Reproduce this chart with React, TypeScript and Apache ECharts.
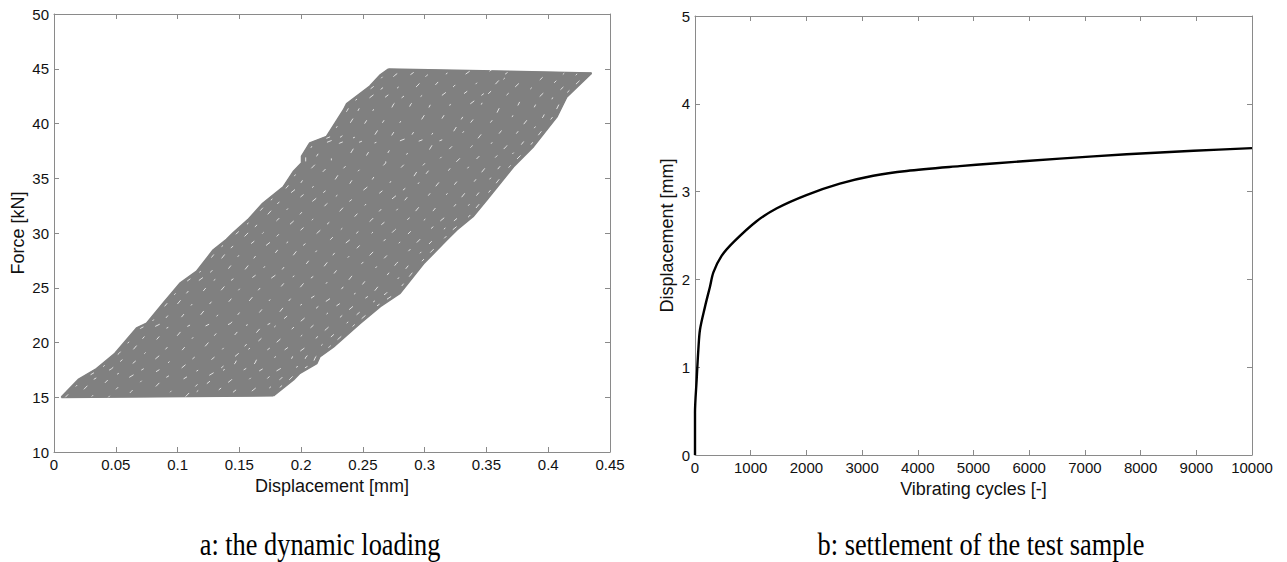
import React, { useEffect, useRef } from "react";
import * as echarts from "echarts";

// ---------- Panel a: hysteresis loops (force vs displacement) ----------
// outer loading branch of the first loops (left envelope), bottom -> top
const leftEdgeX = [0.006, 0.0103, 0.0197, 0.0345, 0.0494, 0.0669, 0.075, 0.0885, 0.102, 0.1155, 0.129, 0.1397, 0.145, 0.157, 0.169, 0.1856, 0.1937, 0.2005, 0.2005, 0.207, 0.2207, 0.2342, 0.237, 0.2557, 0.2638, 0.2706];
const leftEdgeF = [15.0, 15.5, 16.6, 17.6, 19.0, 21.3, 21.75, 23.6, 25.4, 26.5, 28.45, 29.4, 30.0, 31.2, 32.7, 34.2, 35.6, 36.4, 37.0, 38.2, 38.8, 41.2, 41.8, 43.4, 44.4, 44.95];
// outer unloading branch of the last loops (right envelope), top -> bottom
const rightEdgeX = [0.435, 0.415, 0.4068, 0.388, 0.3717, 0.35, 0.339, 0.326, 0.318, 0.299, 0.28, 0.264, 0.2477, 0.226, 0.215, 0.2126, 0.199, 0.1937, 0.1775];
const rightEdgeF = [44.6, 42.45, 40.6, 37.9, 36.05, 33.0, 31.5, 30.3, 29.4, 27.2, 24.5, 23.3, 21.75, 19.6, 18.7, 18.1, 17.2, 16.6, 15.15];
// peak plateau and valley plateau
const topX = [0.2706, 0.435];
const topF = [44.95, 44.6];
const bottomX = [0.006, 0.1775];
const bottomF = [15.0, 15.15];
// displacement offsets of inner loops whose small gaps show through the mass
const leftGapOffsets = [0.0032, 0.012, 0.024, 0.038, 0.052, 0.068, 0.084, 0.1];
const rightGapOffsets = [-0.0032, -0.011, -0.022, -0.036, -0.05, -0.066];

const xTicksA = ["0", "0.05", "0.1", "0.15", "0.2", "0.25", "0.3", "0.35", "0.4", "0.45"];
const yTicksA = ["10", "15", "20", "25", "30", "35", "40", "45", "50"];

// ---------- Panel b: settlement vs vibrating cycles ----------
const cycles = [0, 0, 30, 60, 90, 180, 270, 330, 480, 700, 1100, 1470, 2000, 2600, 3200, 3800, 4750, 5350, 6550, 7750, 8950, 10000];
const settlement = [0, 0.48, 0.86, 1.2, 1.43, 1.69, 1.92, 2.08, 2.27, 2.43, 2.66, 2.81, 2.96, 3.09, 3.18, 3.235, 3.29, 3.32, 3.375, 3.425, 3.465, 3.495];

const xTicksB = ["0", "1000", "2000", "3000", "4000", "5000", "6000", "7000", "8000", "9000", "10000"];
const yTicksB = ["0", "1", "2", "3", "4", "5"];

const captionA = "a: the dynamic loading";
const captionB = "b: settlement of the test sample";

const SANS = "'Liberation Sans', Arial, sans-serif";
const SERIF = "'Liberation Serif', 'Times New Roman', serif";
const AXIS_GRAY = "#8a8a8a";
const LOOP_GRAY = "#808080";

function pairs(xs: number[], ys: number[], dx = 0): number[][] {
  return xs.map((x, i) => [x + dx, ys[i]]);
}

function labelFmt(labels: string[], min: number, step: number) {
  return (v: number) => {
    const i = Math.round((v - min) / step);
    return labels[i] ?? "";
  };
}

export default function App() {
  const ref = useRef<HTMLDivElement>(null);

  useEffect(() => {
    if (!ref.current) return;
    const chart = echarts.init(ref.current, null, { renderer: "svg" });

    const envelope = [
      ...pairs(leftEdgeX, leftEdgeF),
      [topX[1], topF[1]],
      ...pairs(rightEdgeX, rightEdgeF),
      [bottomX[0], bottomF[0]],
    ];

    const axisCommon = {
      type: "value",
      axisLine: { show: true, onZero: false, lineStyle: { color: AXIS_GRAY, width: 1 } },
      axisTick: { show: true, inside: true, length: 5, lineStyle: { color: AXIS_GRAY } },
      splitLine: { show: false },
    };
    const labelStyle = { fontSize: 15, color: "#111", fontFamily: SANS };
    const nameStyle = { fontSize: 18, color: "#111", fontFamily: SANS };

    const baseX = (gridIndex: number, min: number, max: number, step: number, labels: string[], name: string) => [
      {
        ...axisCommon,
        gridIndex, min, max, interval: step,
        position: "bottom",
        axisLabel: { ...labelStyle, margin: 5, formatter: labelFmt(labels, min, step) },
        name,
        nameLocation: "middle",
        nameGap: 23,
        nameTextStyle: nameStyle,
      },
      {
        ...axisCommon,
        gridIndex, min, max, interval: step,
        position: "top",
        axisLabel: { show: false },
      },
    ];
    const baseY = (gridIndex: number, min: number, max: number, step: number, labels: string[], name: string, gap: number) => [
      {
        ...axisCommon,
        gridIndex, min, max, interval: step,
        position: "left",
        axisLabel: { ...labelStyle, margin: 5, formatter: labelFmt(labels, min, step) },
        name,
        nameLocation: "middle",
        nameGap: gap,
        nameTextStyle: nameStyle,
      },
      {
        ...axisCommon,
        gridIndex, min, max, interval: step,
        position: "right",
        axisLabel: { show: false },
      },
    ];

    const loopLine = (data: number[][]) => ({
      type: "line",
      xAxisIndex: 0,
      yAxisIndex: 0,
      data,
      showSymbol: false,
      silent: true,
      lineStyle: { color: LOOP_GRAY, width: 2 },
      z: 3,
    });

    const gapLine = (data: number[][], k: number) => ({
      type: "line",
      xAxisIndex: 0,
      yAxisIndex: 0,
      data,
      showSymbol: false,
      silent: true,
      lineStyle: {
        color: "#ffffff",
        width: 0.9,
        opacity: 0.85,
        type: k % 2 === 0 ? [4, 11, 2, 17] : [3, 15, 5, 9],
        dashOffset: k * 7,
      },
      z: 4,
    });

    const option: any = {
      animation: false,
      backgroundColor: "#ffffff",
      grid: [
        { left: 54, top: 14, width: 556, height: 438, containLabel: false },
        { left: 695, top: 16, width: 557, height: 439, containLabel: false },
      ],
      xAxis: [
        ...baseX(0, 0, 0.45, 0.05, xTicksA, "Displacement [mm]"),
        ...baseX(1, 0, 10000, 1000, xTicksB, "Vibrating cycles [-]"),
      ],
      yAxis: [
        ...baseY(0, 10, 50, 5, yTicksA, "Force [kN]", 27),
        ...baseY(1, 0, 5, 1, yTicksB, "Displacement [mm]", 19),
      ],
      series: [
        {
          type: "custom",
          xAxisIndex: 0,
          yAxisIndex: 0,
          silent: true,
          data: [[0.2, 30]],
          renderItem: (_p: any, api: any) => ({
            type: "polygon",
            shape: { points: envelope.map((p) => api.coord(p)) },
            style: { fill: LOOP_GRAY, stroke: LOOP_GRAY, lineWidth: 1 },
          }),
          z: 2,
        },
        loopLine(pairs(leftEdgeX, leftEdgeF)),
        loopLine(pairs(rightEdgeX, rightEdgeF)),
        loopLine(pairs(topX, topF)),
        loopLine(pairs(bottomX, bottomF)),
        ...leftGapOffsets.map((d, k) => gapLine(pairs(leftEdgeX, leftEdgeF, d), k)),
        ...rightGapOffsets.map((d, k) => gapLine(pairs(rightEdgeX, rightEdgeF, d), k + 1)),
        {
          type: "line",
          xAxisIndex: 2,
          yAxisIndex: 2,
          data: pairs(cycles, settlement),
          showSymbol: false,
          smooth: 0.3,
          silent: true,
          lineStyle: { color: "#000000", width: 2.4 },
          z: 3,
        },
      ],
      graphic: [
        {
          type: "text",
          x: 320,
          y: 544,
          scaleX: 0.85,
          style: { text: captionA, fontSize: 31, fontFamily: SERIF, fill: "#000", align: "center", verticalAlign: "middle" },
        },
        {
          type: "text",
          x: 981,
          y: 544,
          scaleX: 0.85,
          style: { text: captionB, fontSize: 31, fontFamily: SERIF, fill: "#000", align: "center", verticalAlign: "middle" },
        },
      ],
    };

    chart.setOption(option);
    return () => chart.dispose();
  }, []);

  return (
    <div
      ref={ref}
      style={{ position: "fixed", left: 0, top: 0, width: 1287, height: 562, background: "#fff" }}
    />
  );
}
